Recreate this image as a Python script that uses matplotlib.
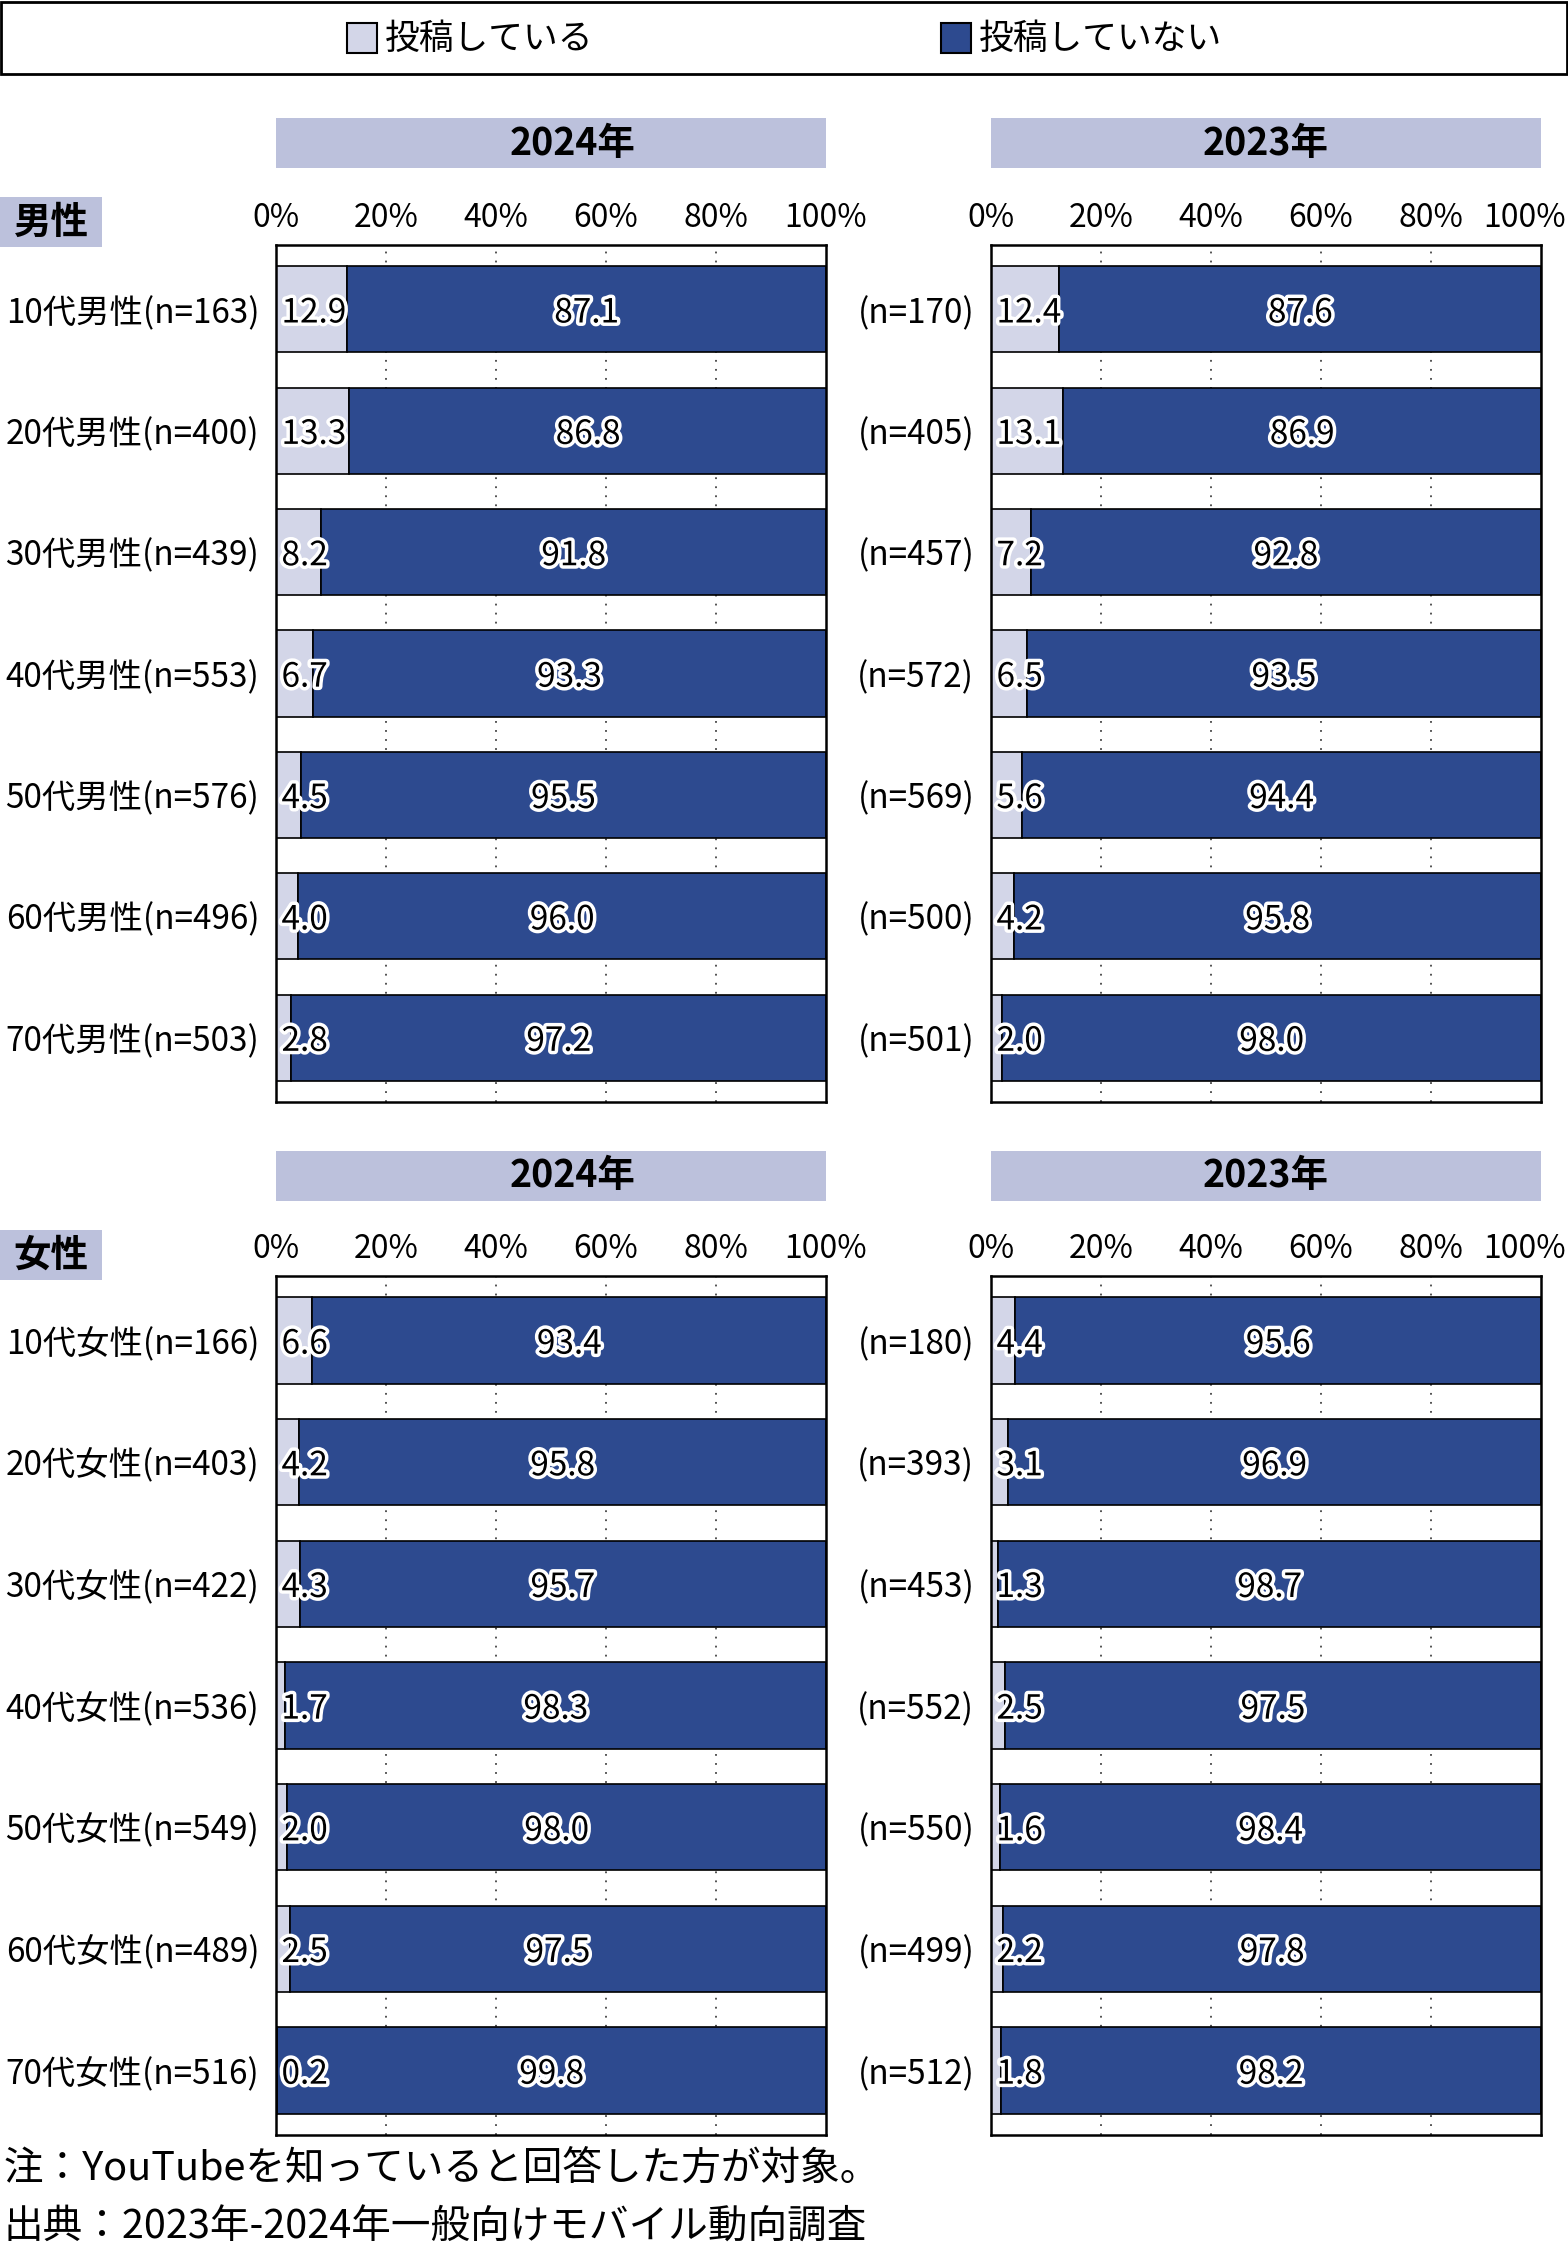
import matplotlib
matplotlib.use("Agg")
import matplotlib.pyplot as plt
import matplotlib.patheffects as pe
from matplotlib.patches import Rectangle
import numpy as np

plt.rcParams['font.family'] = ['Noto Sans CJK JP', 'DejaVu Sans']

# data
ages = ["10代", "20代", "30代", "40代", "50代", "60代", "70代"]
series_names = ["投稿している", "投稿していない"]

male_2024_post = [12.9, 13.3, 8.2, 6.7, 4.5, 4.0, 2.8]
male_2024_not = [87.1, 86.8, 91.8, 93.3, 95.5, 96.0, 97.2]
male_2024_n = [163, 400, 439, 553, 576, 496, 503]

male_2023_post = [12.4, 13.1, 7.2, 6.5, 5.6, 4.2, 2.0]
male_2023_not = [87.6, 86.9, 92.8, 93.5, 94.4, 95.8, 98.0]
male_2023_n = [170, 405, 457, 572, 569, 500, 501]

female_2024_post = [6.6, 4.2, 4.3, 1.7, 2.0, 2.5, 0.2]
female_2024_not = [93.4, 95.8, 95.7, 98.3, 98.0, 97.5, 99.8]
female_2024_n = [166, 403, 422, 536, 549, 489, 516]

female_2023_post = [4.4, 3.1, 1.3, 2.5, 1.6, 2.2, 1.8]
female_2023_not = [95.6, 96.9, 98.7, 97.5, 98.4, 97.8, 98.2]
female_2023_n = [180, 393, 453, 552, 550, 499, 512]

ticks = [0, 20, 40, 60, 80, 100]

LIGHT = "#D3D6E8"
DARK = "#2D4A8F"
HEAD = "#BCC1DC"

W, H = 1568, 2256
fig = plt.figure(figsize=(W / 100, H / 100), dpi=100)


def fx(px):
    return px / W


def fy(top, bottom):
    return 1 - bottom / H, (bottom - top) / H


def draw_panel(left_px, top_px, bottom_px, post, notp, labels, shift_last=False):
    b, h = fy(top_px, bottom_px)
    ax = fig.add_axes([fx(left_px), b, fx(550), h])
    y = np.arange(len(post))
    ax.barh(y, post, height=0.71, color=LIGHT, edgecolor="black", linewidth=1.2, zorder=2)
    ax.barh(y, notp, left=post, height=0.71, color=DARK, edgecolor="black", linewidth=1.2, zorder=2)
    ax.set_xlim(0, 100)
    ax.set_ylim(len(post) - 1 + 0.53, -0.53)
    ax.set_xticks(ticks)
    tl = [f"{v}%" for v in ticks]
    if shift_last:
        # the last tick label is pulled in so that it stays inside the figure
        tl[-1] = ""
        ax.annotate("100%", xy=(100, 1), xycoords=("data", "axes fraction"),
                    xytext=(-12, 8), textcoords="offset points",
                    ha="center", va="bottom", fontsize=23)
    ax.set_xticklabels(tl, fontsize=23)
    ax.xaxis.tick_top()
    ax.tick_params(axis="x", length=0, pad=8)
    ax.set_yticks(y)
    ax.set_yticklabels(labels, fontsize=24)
    ax.tick_params(axis="y", length=0, pad=12)
    for v in [20, 40, 60, 80]:
        ax.axvline(v, color="#444444", linestyle=(0, (1, 4)), linewidth=1.3, zorder=1)
    for s in ax.spines.values():
        s.set_linewidth(1.8)
        s.set_color("black")
    stroke = [pe.withStroke(linewidth=5, foreground="white")]
    for i in range(len(post)):
        ax.text(1.0, i + 0.03, f"{post[i]:.1f}", ha="left", va="center", fontsize=24,
                color="black", path_effects=stroke, zorder=4)
        ax.text(post[i] + notp[i] / 2, i + 0.03, f"{notp[i]:.1f}", ha="center", va="center",
                fontsize=24, color="black", path_effects=stroke, zorder=4)
    return ax


def header(left_px, top_px, bottom_px, text, text_x=0.5):
    b, h = fy(top_px, bottom_px)
    hx = fig.add_axes([fx(left_px), b, fx(550), h])
    hx.set_facecolor(HEAD)
    hx.set_xticks([])
    hx.set_yticks([])
    for s in hx.spines.values():
        s.set_visible(False)
    hx.text(text_x, 0.5, text, ha="center", va="center", fontsize=27, fontweight="bold",
            transform=hx.transAxes)


def gender_box(top_px, bottom_px, text):
    b, h = fy(top_px, bottom_px)
    fig.patches.append(Rectangle((0, b), fx(102), h, transform=fig.transFigure,
                                 facecolor=HEAD, edgecolor="none"))
    fig.text(fx(51), b + h / 2, text, ha="center", va="center", fontsize=27, fontweight="bold")


# legend
lb, lh = fy(2, 74)
fig.patches.append(Rectangle((0.0008, lb), 0.9984, lh, transform=fig.transFigure,
                             facecolor="white", edgecolor="black", linewidth=2))
for name, col, xp in [(series_names[0], LIGHT, 347), (series_names[1], DARK, 941)]:
    pb, ph = fy(23, 53)
    fig.patches.append(Rectangle((fx(xp), pb), fx(30), ph, transform=fig.transFigure,
                                 facecolor=col, edgecolor="black", linewidth=1.5))
    fig.text(fx(xp + 38), 1 - 39 / H, name, ha="left", va="center", fontsize=25)

# male
gender_box(197, 247, "男性")
header(276, 118, 168, "2024年", text_x=0.54)
header(991, 118, 168, "2023年")
draw_panel(276, 245, 1102, male_2024_post, male_2024_not,
           [f"{a}男性(n={n})" for a, n in zip(ages, male_2024_n)])
draw_panel(991, 245, 1102, male_2023_post, male_2023_not,
           [f"(n={n})" for n in male_2023_n], shift_last=True)

# female
gender_box(1230, 1280, "女性")
header(276, 1151, 1201, "2024年", text_x=0.54)
header(991, 1151, 1201, "2023年")
draw_panel(276, 1276, 2135, female_2024_post, female_2024_not,
           [f"{a}女性(n={n})" for a, n in zip(ages, female_2024_n)])
draw_panel(991, 1276, 2135, female_2023_post, female_2023_not,
           [f"(n={n})" for n in female_2023_n], shift_last=True)

# notes
fig.text(0.002, 1 - 2169 / H, "注：YouTubeを知っていると回答した方が対象。", ha="left", va="center",
         fontsize=28.5)
fig.text(0.002, 1 - 2228 / H, "出典：2023年-2024年一般向けモバイル動向調査", ha="left", va="center",
         fontsize=28.5)

fig.savefig("out.png", dpi=100)
